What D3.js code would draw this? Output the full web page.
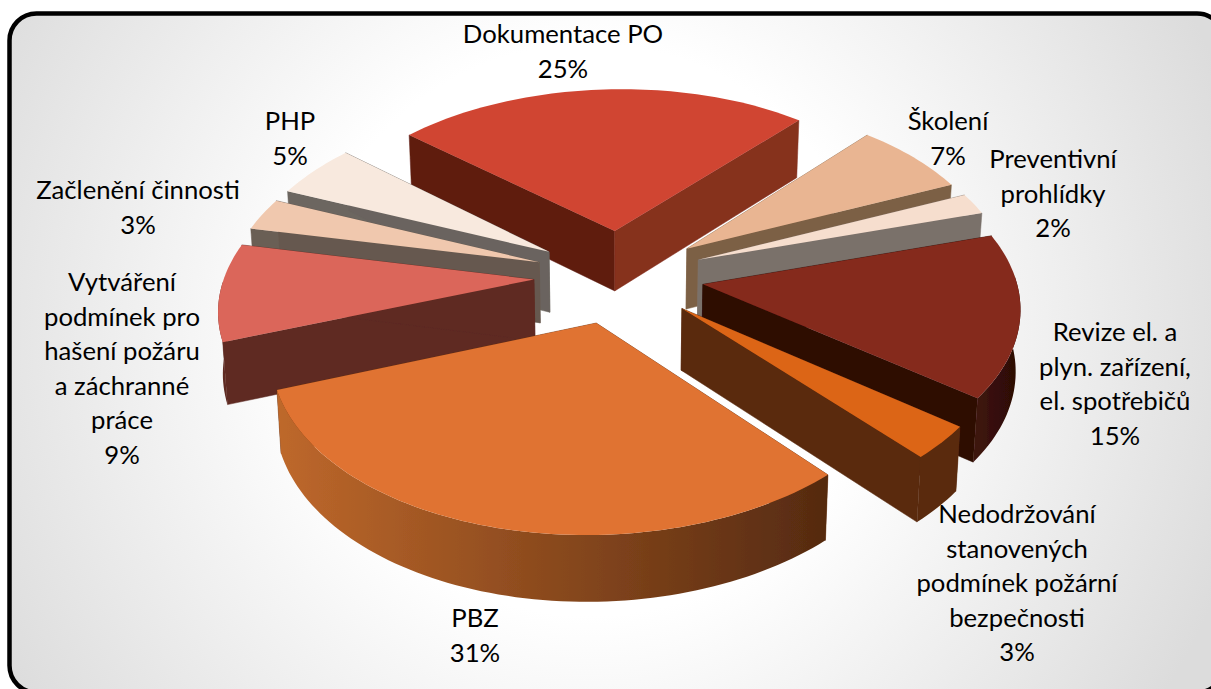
<!DOCTYPE html>
<html lang="cs">
<head>
<meta charset="utf-8">
<script src="https://cdn.jsdelivr.net/npm/d3@7"></script>
<style>
html,body{margin:0;padding:0;background:#fff;overflow:hidden}
svg{display:block}
text{font-family:Lato,"Open Sans",sans-serif;font-size:25.7px;fill:#000}
</style>
</head>
<body>
<svg id="chart" width="1211" height="689"></svg>
<script>
// --- data ---
const categories = ["Dokumentace PO","Školení","Preventivní prohlídky","Revize el. a plyn. zařízení, el. spotřebičů","Nedodržování stanovených podmínek požární bezpečnosti","PBZ","Vytváření podmínek pro hašení požáru a záchranné práce","Začlenění činnosti","PHP"];
const values = [25,7,2,15,3,31,9,3,5];
const labelLines = [
  ["Dokumentace PO"],
  ["Školení"],
  ["Preventivní","prohlídky"],
  ["Revize el. a","plyn. zařízení,","el. spotřebičů"],
  ["Nedodržování","stanovených","podmínek požární","bezpečnosti"],
  ["PBZ"],
  ["Vytváření","podmínek pro","hašení požáru","a záchranné","práce"],
  ["Začlenění činnosti"],
  ["PHP"]
];
// --- styles ---
const topColors   = ["#D04533","#E9B592","#F6DECE","#85291C","#DC6518","#E07331","#DB665A","#F0C8AE","#F8E9DE"];
const startWall   = ["#5E1C10","#8A6A4E","#85756A","#2E0C05","#5A2A0C","#6A3314","#5E2A22","#6B5E54","#6C6660"];
const endWall     = ["#86301F","#7C6045","#7A716B","#2E0C05","#5A2A0C","#6A3314","#5E2A22","#66594F","#6A645F"];
const outerLeft   = ["#86301F","#7C6045","#7A716B","#3E140A","#5A2A0C","#BE682B","#6C3028","#66594F","#6A645F"];
const outerRight  = ["#86301F","#7C6045","#7A716B","#2A0A05","#5A2A0C","#552A10","#5E2A22","#66594F","#6A645F"];
const labelX = [563,948,1053,1115,1017,475,122,138,290];
const labelY = [34,121,159,332,514,618,282,190,121];
const lineStep = 34.6;

// --- projection of the ground plane ---
const cx=619, cy=276, R=311, explode=85, tilt=0.55, persp=0.13, depth=61, roll=0.012;
const project=(X,Y,low)=>{
  const s=1/(1+persp*Y/R);
  const shrink=low?0.988:1;
  const x=cx+X*s;
  return [cx+X*s*shrink, cy-tilt*Y*s-(x-cx)*roll+(low?depth*Math.pow(s,0.5):0)];
};

const svg=d3.select("#chart");
const defs=svg.append("defs");
const bg=defs.append("radialGradient").attr("id","bg").attr("gradientUnits","userSpaceOnUse")
  .attr("cx",590).attr("cy",330).attr("r",680);
bg.append("stop").attr("offset",0.42).attr("stop-color","#ffffff");
bg.append("stop").attr("offset",1).attr("stop-color","#dcdcdc");
defs.append("filter").attr("id","soft").append("feGaussianBlur").attr("stdDeviation",0.6);
svg.append("rect").attr("x",9.5).attr("y",13.5).attr("width",1214.5).attr("height",679).attr("rx",27).attr("ry",27)
  .attr("fill","url(#bg)").attr("stroke","#000").attr("stroke-width",4.5);

const pie=d3.pie().value(d=>d).sort(null).startAngle(-48*Math.PI/180).endAngle(312*Math.PI/180);
const arcs=pie(values).map((a,i)=>Object.assign(a,{i,mid:(a.startAngle+a.endAngle)/2}));
const line=d3.line();
const order=arcs.slice().sort((a,b)=>Math.cos(b.mid)-Math.cos(a.mid));
const g=svg.append("g").attr("filter","url(#soft)");

order.forEach(a=>{
  const i=a.i;
  const ox=explode*Math.sin(a.mid), oy=explode*Math.cos(a.mid);
  const pt=(th,r,low)=>project(ox+r*Math.sin(th),oy+r*Math.cos(th),low);
  const n=Math.max(6,Math.ceil((a.endAngle-a.startAngle)*40));
  const ths=d3.range(n+1).map(k=>a.startAngle+(a.endAngle-a.startAngle)*k/n);
  const apexT=pt(0,0,false), apexB=pt(0,0,true);
  const wall=(th,col)=>g.append("path").attr("d",line([apexT,pt(th,R,false),pt(th,R,true),apexB])+"Z").attr("fill",col).attr("stroke",col).attr("stroke-width",0.5);
  wall(a.startAngle,startWall[i]);
  wall(a.endAngle,endWall[i]);
  const front=ths.filter(t=>Math.cos(t)<0.03);
  if(front.length>1){
    const xs=front.map(t=>pt(t,R,false)[0]);
    const gr=defs.append("linearGradient").attr("id","o"+i).attr("gradientUnits","userSpaceOnUse")
      .attr("x1",d3.min(xs)).attr("x2",d3.max(xs)).attr("y1",0).attr("y2",0);
    gr.append("stop").attr("offset",0).attr("stop-color",outerLeft[i]);
    gr.append("stop").attr("offset",1).attr("stop-color",outerRight[i]);
    const outer=front.map(t=>pt(t,R,false)).concat(front.slice().reverse().map(t=>pt(t,R,true)));
    g.append("path").attr("d",line(outer)+"Z").attr("fill",`url(#o${i})`);
  }
  const top=[apexT].concat(ths.map(t=>pt(t,R,false)));
  g.append("path").attr("d",line(top)+"Z").attr("fill",topColors[i]);
});

arcs.forEach(a=>{
  const i=a.i;
  const lines=labelLines[i].concat([d3.format(".0%")(values[i]/d3.sum(values))]);
  const t=svg.append("text").attr("text-anchor","middle");
  lines.forEach((l,k)=>t.append("tspan").attr("x",labelX[i]).attr("y",labelY[i]+k*lineStep).attr("dy","0.35em").text(l));
});
</script>
</body>
</html>
